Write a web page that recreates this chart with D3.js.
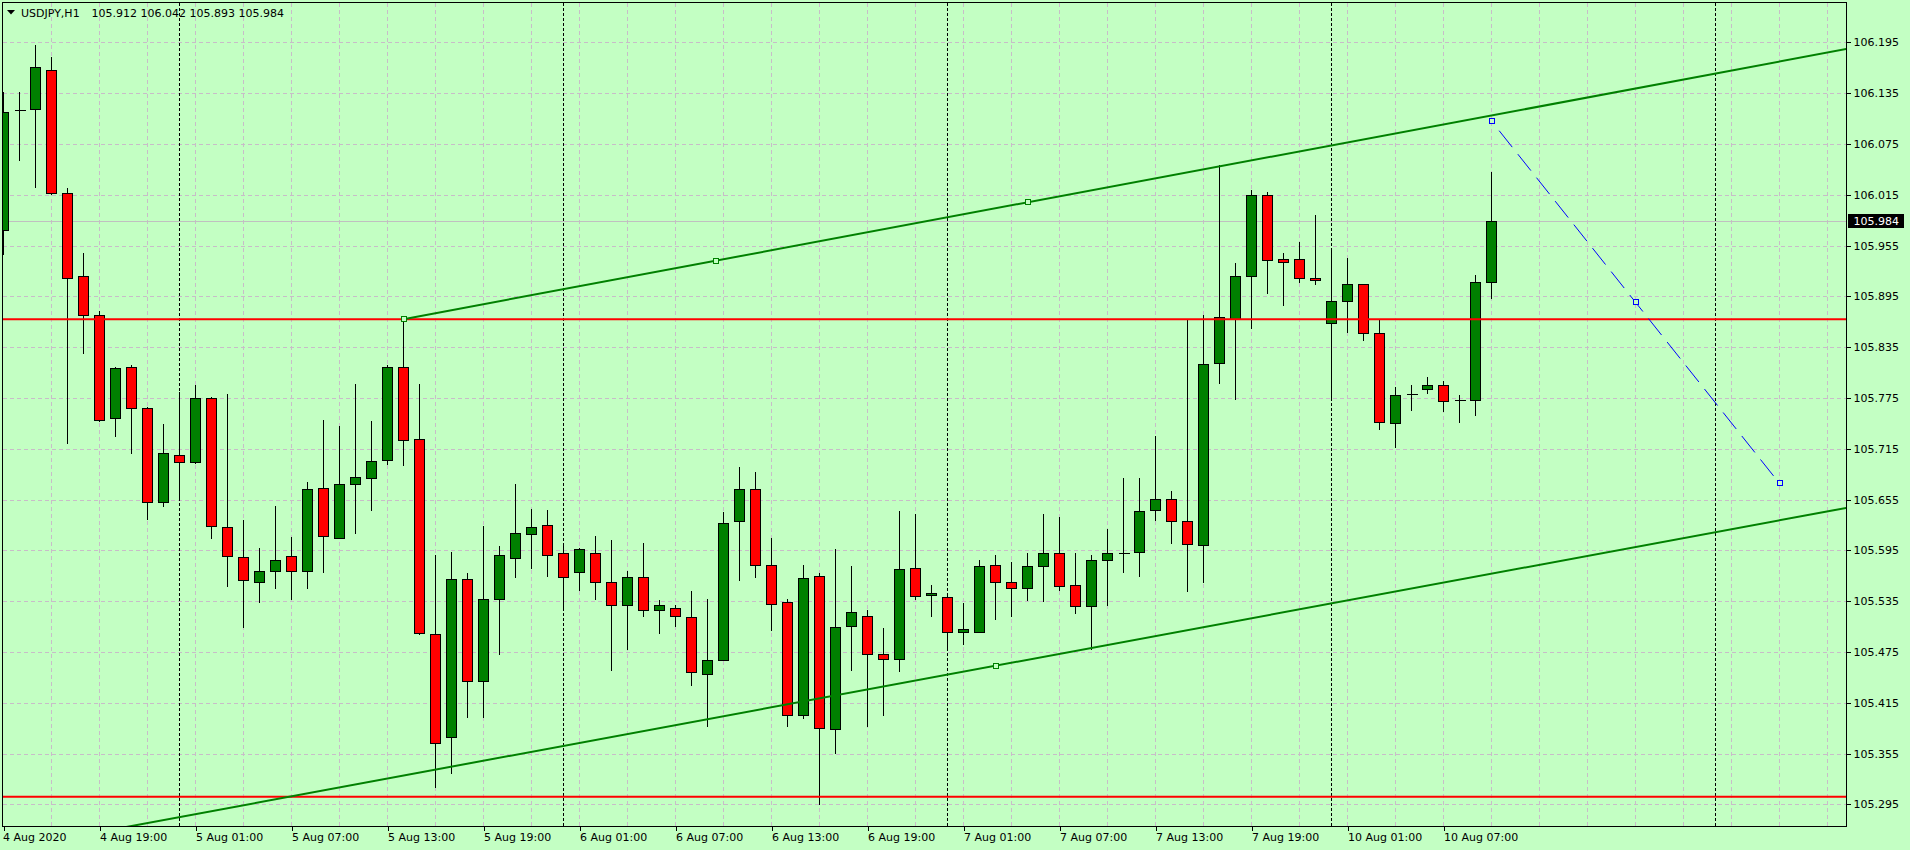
<!DOCTYPE html>
<html><head><meta charset="utf-8">
<script src="https://cdn.jsdelivr.net/npm/d3@7"></script>
<style>
html,body{margin:0;padding:0;background:#c3ffc3;overflow:hidden;}
svg{display:block;}
text{font-family:"DejaVu Sans",sans-serif;font-size:11px;}
</style></head><body>
<svg id="chart" width="1910" height="850"></svg>
<script>
// ---------------- DATA ----------------
const symbolTitle = "USDJPY,H1";
// H1 bars, index 0 = 4 Aug 2020 13:00 ... index 93 = 10 Aug 2020 10:00
const opens = [105.973,106.115,106.116,106.162,106.017,105.919,105.873,105.751,105.811,105.763,
  105.652,105.708,105.699,105.775,105.623,105.587,105.558,105.570,105.588,105.571,
  105.669,105.610,105.673,105.681,105.702,105.812,105.727,105.496,105.374,105.561,
  105.441,105.538,105.586,105.614,105.625,105.592,105.569,105.592,105.558,105.531,
  105.564,105.525,105.527,105.516,105.449,105.466,105.630,105.667,105.578,105.534,
  105.401,105.565,105.384,105.506,105.518,105.472,105.467,105.574,105.542,105.540,
  105.498,105.499,105.578,105.557,105.551,105.577,105.592,105.554,105.529,105.584,
  105.592,105.593,105.643,105.656,105.630,105.601,105.816,105.868,105.919,106.015,
  105.939,105.939,105.917,105.863,105.889,105.909,105.852,105.745,105.780,105.786,
  105.790,105.772,105.773,105.912];
const highs = [106.136,106.136,106.192,106.178,106.023,105.946,105.878,105.811,105.814,105.764,
  105.744,105.782,105.790,105.776,105.780,105.631,105.598,105.647,105.611,105.676,
  105.749,105.742,105.792,105.748,105.814,105.868,105.792,105.589,105.593,105.568,
  105.624,105.600,105.673,105.644,105.643,105.604,105.598,105.612,105.607,105.570,
  105.604,105.536,105.531,105.547,105.538,105.640,105.693,105.688,105.610,105.537,
  105.578,105.568,105.597,105.577,105.525,105.503,105.641,105.638,105.554,105.541,
  105.533,105.584,105.590,105.581,105.592,105.638,105.634,105.592,105.590,105.620,
  105.681,105.680,105.730,105.665,105.868,105.873,106.050,105.934,106.021,106.018,
  105.946,105.959,105.991,105.952,105.940,105.910,105.867,105.788,105.790,105.800,
  105.795,105.778,105.920,106.042];
const lows = [105.945,106.056,106.024,106.016,105.722,105.828,105.748,105.730,105.710,105.632,
  105.647,105.658,105.698,105.609,105.553,105.504,105.534,105.551,105.538,105.551,
  105.569,105.609,105.615,105.643,105.697,105.696,105.496,105.316,105.332,105.398,
  105.398,105.473,105.564,105.574,105.565,105.524,105.548,105.538,105.454,105.479,
  105.517,105.497,105.506,105.436,105.387,105.465,105.560,105.564,105.501,105.388,
  105.397,105.295,105.356,105.454,105.388,105.400,105.453,105.537,105.518,105.481,
  105.484,105.498,105.514,105.518,105.536,105.535,105.548,105.521,105.478,105.531,
  105.569,105.565,105.631,105.604,105.547,105.557,105.793,105.774,105.858,105.899,
  105.885,105.912,105.909,105.773,105.853,105.843,105.738,105.717,105.761,105.781,
  105.760,105.746,105.755,105.893];
const closes = [106.113,106.115,106.166,106.017,105.917,105.873,105.749,105.810,105.763,105.652,
  105.710,105.699,105.775,105.624,105.588,105.560,105.570,105.584,105.570,105.668,
  105.612,105.673,105.682,105.701,105.811,105.725,105.497,105.367,105.561,105.441,
  105.537,105.589,105.615,105.623,105.589,105.564,105.596,105.557,105.530,105.564,
  105.525,105.530,105.517,105.451,105.466,105.627,105.668,105.578,105.532,105.401,
  105.562,105.385,105.504,105.522,105.472,105.467,105.573,105.541,105.544,105.499,
  105.502,105.576,105.557,105.551,105.577,105.592,105.553,105.529,105.584,105.592,
  105.592,105.642,105.656,105.630,105.602,105.815,105.871,105.919,106.015,105.938,
  105.936,105.917,105.914,105.889,105.909,105.852,105.746,105.778,105.780,105.790,
  105.771,105.772,105.912,105.984];

const timeTickBars   = [0,6,12,18,24,30,36,42,48,54,60,66,72,78,84,90];
const timeTickLabels = ["4 Aug 2020","4 Aug 19:00","5 Aug 01:00","5 Aug 07:00","5 Aug 13:00",
  "5 Aug 19:00","6 Aug 01:00","6 Aug 07:00","6 Aug 13:00","6 Aug 19:00","7 Aug 01:00",
  "7 Aug 07:00","7 Aug 13:00","7 Aug 19:00","10 Aug 01:00","10 Aug 07:00"];
const priceTicks = [106.195,106.135,106.075,106.015,105.955,105.895,105.835,105.775,
  105.715,105.655,105.595,105.535,105.475,105.415,105.355,105.295];
const separatorBars = [11,35,59,83,107];          // day starts (00:00 bars)
const horizontalLevels = [105.868, 105.304];      // red horizontal lines
const bidPrice = 105.984;
const upperChannel = [{bar:25, price:105.868},{bar:64, price:106.006}];
const lowerChannel = [{bar:-10, price:105.2063},{bar:134, price:105.7111}];
const projection   = [{bar:93, price:106.102},{bar:111, price:105.674}];

// ---------------- LAYOUT ----------------
const W = 1910, H = 850;
const plot = {left:2.5, top:2.5, right:1846.5, bottom:826.5};
const barStep = 16, firstBarX = 3.5;
const priceLow = 105.2694, priceHigh = 106.2426;

const C = {
  bg:"#c3ffc3", grid:"#c8bcc8", bid:"#c0c0c0", bull:"#008000", bear:"#ff0000",
  level:"#ff0000", channel:"#008000", proj:"#0000ff", ink:"#000000"
};

const svg = d3.select("#chart");
const x = d3.scaleLinear().domain([0,1]).range([firstBarX, firstBarX+barStep]);
const y = d3.scaleLinear().domain([priceLow, priceHigh]).range([826, 2]);
const snap = v => Math.round(v) + 0.5;

svg.append("rect").attr("width",W).attr("height",H).attr("fill",C.bg);

svg.append("clipPath").attr("id","plotclip").append("rect")
  .attr("x",plot.left+0.5).attr("y",plot.top+0.5)
  .attr("width",plot.right-plot.left-1).attr("height",plot.bottom-plot.top-1);

const g = svg.append("g").attr("clip-path","url(#plotclip)");

// grid
const lastBar = Math.ceil(x.invert(plot.right));
g.append("g").selectAll("line").data(priceTicks).join("line")
  .attr("x1",plot.left).attr("x2",plot.right)
  .attr("y1",d=>snap(y(d))).attr("y2",d=>snap(y(d)))
  .attr("stroke",C.grid).attr("stroke-dasharray","4,3").attr("shape-rendering","crispEdges");
g.append("g").selectAll("line").data(d3.range(3,lastBar+1,3)).join("line")
  .attr("x1",d=>x(d)).attr("x2",d=>x(d))
  .attr("y1",plot.top).attr("y2",plot.bottom)
  .attr("stroke",C.grid).attr("stroke-dasharray","4,3").attr("shape-rendering","crispEdges");

// bid line
g.append("line").attr("x1",plot.left).attr("x2",plot.right)
  .attr("y1",snap(y(bidPrice))).attr("y2",snap(y(bidPrice)))
  .attr("stroke",C.bid).attr("shape-rendering","crispEdges");

// period separators
g.append("g").selectAll("line").data(separatorBars).join("line")
  .attr("x1",d=>x(d)).attr("x2",d=>x(d))
  .attr("y1",plot.top).attr("y2",plot.bottom)
  .attr("stroke",C.ink).attr("stroke-dasharray","3,2").attr("shape-rendering","crispEdges");

// candles
const bars = opens.map((o,i)=>({i,o,h:highs[i],l:lows[i],c:closes[i]}));
const cg = g.append("g").attr("shape-rendering","crispEdges");
const cand = cg.selectAll("g").data(bars).join("g");
cand.append("line")
  .attr("x1",d=>x(d.i)).attr("x2",d=>x(d.i))
  .attr("y1",d=>Math.round(y(d.h))).attr("y2",d=>Math.round(y(d.l))+1)
  .attr("stroke",C.ink);
cand.each(function(d){
  const sel = d3.select(this);
  const top = snap(y(Math.max(d.o,d.c))), bot = snap(y(Math.min(d.o,d.c)));
  const cx = x(d.i);
  if (bot - top < 1) {
    sel.append("line").attr("x1",cx-5).attr("x2",cx+6)
      .attr("y1",top).attr("y2",top).attr("stroke",C.ink);
  } else {
    sel.append("rect").attr("x",cx-5).attr("y",top).attr("width",10).attr("height",bot-top)
      .attr("fill", d.c > d.o ? C.bull : C.bear).attr("stroke",C.ink);
  }
});

// horizontal levels
g.append("g").selectAll("line").data(horizontalLevels).join("line")
  .attr("x1",plot.left).attr("x2",plot.right)
  .attr("y1",d=>y(d)).attr("y2",d=>y(d))
  .attr("stroke",C.level).attr("stroke-width",2);

// trend lines
const priceAt = (pts,bar)=> pts[0].price + (pts[1].price-pts[0].price)*(bar-pts[0].bar)/(pts[1].bar-pts[0].bar);
function channelLine(pts){
  const b0 = pts[0].bar, b1 = lastBar+1;
  g.append("line").attr("x1",x(b0)).attr("y1",y(priceAt(pts,b0)))
    .attr("x2",x(b1)).attr("y2",y(priceAt(pts,b1)))
    .attr("stroke",C.channel).attr("stroke-width",2);
}
channelLine(upperChannel);
channelLine(lowerChannel);
g.append("line")
  .attr("x1",x(projection[0].bar)).attr("y1",y(projection[0].price))
  .attr("x2",x(projection[1].bar)).attr("y2",y(projection[1].price))
  .attr("stroke",C.proj).attr("stroke-width",1)
  .attr("stroke-dasharray","21,9").attr("stroke-dashoffset",17.7);

// handles (ends + middle)
function handles(pts,color){
  const mid = {bar:(pts[0].bar+pts[1].bar)/2, price:(pts[0].price+pts[1].price)/2};
  g.append("g").selectAll("rect").data([pts[0],mid,pts[1]]).join("rect")
    .attr("x",d=>Math.round(x(d.bar))-2.5).attr("y",d=>Math.round(y(d.price))-2.5)
    .attr("width",5).attr("height",5)
    .attr("fill",C.bg).attr("stroke",color).attr("shape-rendering","crispEdges");
}
handles(upperChannel,C.channel);
handles(lowerChannel,C.channel);
handles(projection,C.proj);

// frame
svg.append("rect").attr("x",plot.left).attr("y",plot.top)
  .attr("width",plot.right-plot.left).attr("height",plot.bottom-plot.top)
  .attr("fill","none").attr("stroke",C.ink).attr("shape-rendering","crispEdges");

// price axis
const yAxis = d3.axisRight(y).tickValues(priceTicks).tickSize(4).tickFormat(d3.format(".3f"));
const ya = svg.append("g").attr("transform",`translate(${plot.right},0)`).call(yAxis);
ya.select(".domain").remove();
ya.selectAll("line").attr("shape-rendering","crispEdges").attr("stroke",C.ink);
ya.selectAll("text").attr("font-family","DejaVu Sans").attr("font-size",11).attr("fill",C.ink);

// time axis
const xAxis = d3.axisBottom(x).tickValues(timeTickBars).tickSize(4)
  .tickFormat((d,i)=>timeTickLabels[i]);
const xa = svg.append("g").attr("transform",`translate(0,${plot.bottom})`).call(xAxis);
xa.select(".domain").remove();
xa.selectAll("line").attr("shape-rendering","crispEdges").attr("stroke",C.ink);
xa.selectAll("text").attr("text-anchor","start").attr("x",(d,i)=> i===0 ? -1 : 0)
  .attr("font-family","DejaVu Sans").attr("font-size",11).attr("fill",C.ink);

// bid price box
const by = y(bidPrice);
svg.append("rect").attr("x",1848).attr("y",Math.round(by)-7).attr("width",56).attr("height",14)
  .attr("fill","#000");
svg.append("text").attr("x",plot.right+7).attr("y",by).attr("dy","0.36em")
  .attr("fill","#fff").text(d3.format(".3f")(bidPrice));

// title
svg.append("path").attr("d","M7,10 L15,10 L11,14.5 Z").attr("fill","#000");
const last = bars[bars.length-1];
svg.append("text").attr("x",21).attr("y",17).attr("fill","#000").text(symbolTitle);
svg.append("text").attr("x",91.5).attr("y",17).attr("fill","#000")
  .text([last.o,last.h,last.l,last.c].map(d3.format(".3f")).join(" "));
</script>
</body></html>
